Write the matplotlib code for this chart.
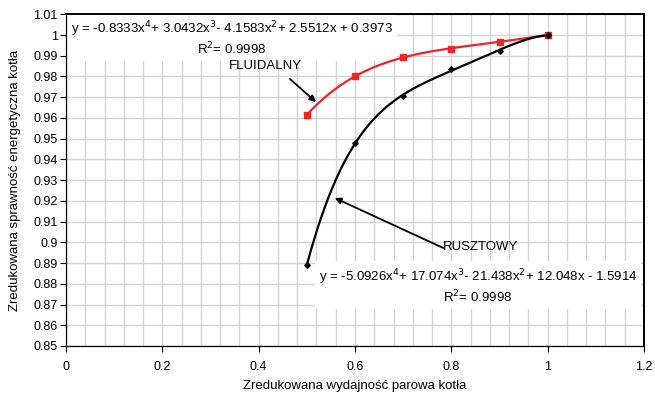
import numpy as np
import matplotlib
matplotlib.use("Agg")
import matplotlib.pyplot as plt
from matplotlib.ticker import MultipleLocator

plt.rcParams["font.family"] = ["Liberation Sans", "DejaVu Sans"]

# Data
load = [0.5, 0.6, 0.7, 0.8, 0.9, 1.0]
eff_fluidalny = [0.9615, 0.9800, 0.9893, 0.9935, 0.9968, 1.0000]
eff_rusztowy = [0.8890, 0.9480, 0.9705, 0.9835, 0.9925, 1.0000]

eq_fluidalny = "y = -0.8333x$^4$+ 3.0432x$^3$- 4.1583x$^2$+ 2.5512x + 0.3973\nR$^2$= 0.9998"
eq_rusztowy = "y = -5.0926x$^4$+ 17.074x$^3$- 21.438x$^2$+ 12.048x - 1.5914\nR$^2$= 0.9998"

x_ticks = [0, 0.2, 0.4, 0.6, 0.8, 1.0, 1.2]
x_tick_labels = ["0", "0.2", "0.4", "0.6", "0.8", "1", "1.2"]

fig = plt.figure(figsize=(6.55, 3.98), dpi=100)
ax = fig.add_axes([66 / 655, 1 - 346 / 398, (644 - 66) / 655, (346 - 14.3) / 398])

ax.set_xlim(0, 1.2)
ax.set_ylim(0.85, 1.01)
ax.set_xticks(x_ticks)
ax.set_xticklabels(x_tick_labels)
ax.xaxis.set_minor_locator(MultipleLocator(0.04))
ax.yaxis.set_major_locator(MultipleLocator(0.01))
ax.set_yticklabels([("%.2f" % v).rstrip("0").rstrip(".") for v in ax.get_yticks()])

ax.grid(True, which="both", axis="x", color="#d4d4d4", linewidth=1)
ax.grid(True, which="major", axis="y", color="#d4d4d4", linewidth=1)
ax.set_axisbelow(True)
ax.tick_params(axis="both", which="major", direction="out", length=4, width=0.8, labelsize=9, pad=3)
ax.tick_params(axis="x", which="major", pad=7)
ax.tick_params(axis="x", which="minor", length=0)
ax.tick_params(axis="y", which="major", pad=2)
for side in ["top", "right"]:
    ax.spines[side].set_linewidth(1.4)
for side in ["left", "bottom"]:
    ax.spines[side].set_linewidth(0.9)

# Excel-like 4th degree trendlines fitted to the points
xs = np.linspace(0.5, 1.0, 200)
fit_f = np.polyfit(load, eff_fluidalny, 4)
fit_r = np.polyfit(load, eff_rusztowy, 4)
ax.plot(xs, np.polyval(fit_f, xs), color="#f02424", linewidth=1.6, zorder=3)
ax.plot(xs, np.polyval(fit_r, xs), color="black", linewidth=1.6, zorder=3)
ax.plot(load, eff_fluidalny, linestyle="none", marker="s", markersize=5, color="#f02424", zorder=4)
ax.plot(load, eff_rusztowy, linestyle="none", marker="D", markersize=2.8, color="black", zorder=4)

# Equation boxes (white background hides the grid, drawn under the curves)
box = dict(boxstyle="square,pad=0.3", facecolor="white", edgecolor="none")
ax.text(0.345, 0.9986, eq_fluidalny, ha="center", va="center", fontsize=9.5, linespacing=1.12,
        bbox=box, zorder=2.5)
ax.text(0.855, 0.8789, eq_rusztowy, ha="center", va="center", fontsize=9.5, linespacing=1.12,
        bbox=box, zorder=2.5)

arrow = dict(arrowstyle="-|>", color="black", linewidth=1.3, mutation_scale=9, shrinkA=0, shrinkB=0)
ax.text(0.339, 0.9851, "FLUIDALNY", fontsize=9.5, ha="left", va="center", zorder=5)
ax.annotate("", xy=(0.519, 0.9677), xytext=(0.465, 0.9788), arrowprops=arrow, zorder=5)
ax.text(0.783, 0.8978, "RUSZTOWY", fontsize=9.5, ha="left", va="center", zorder=5)
ax.annotate("", xy=(0.558, 0.9214), xytext=(0.783, 0.8973), arrowprops=arrow, zorder=5)

fig.text(15 / 655, 1 - 180 / 398, "Zredukowana sprawność energetyczna kotła", rotation=90,
         ha="center", va="center", fontsize=9.5)
fig.text(0.5 * (66 + 644) / 655, 1 - 386 / 398, "Zredukowana wydajność parowa kotła",
         ha="center", va="center", fontsize=9.5)

fig.savefig("out.png", dpi=100)
